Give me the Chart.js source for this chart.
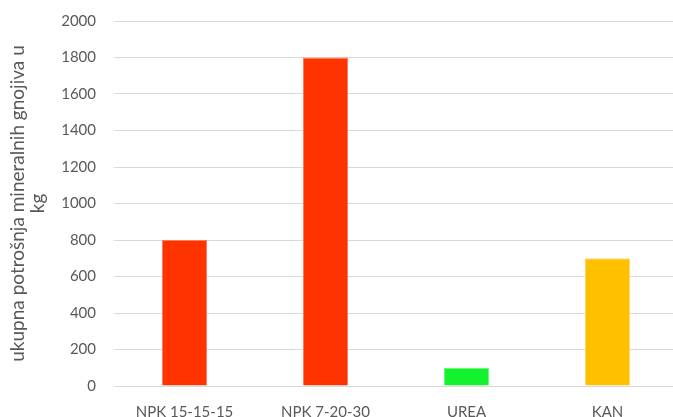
<!DOCTYPE html>
<html>
<head>
<meta charset="utf-8">
<script src="https://cdn.jsdelivr.net/npm/chart.js@4"></script>
<style>
  html, body { margin: 0; padding: 0; background: #fff; overflow: hidden; }
  .wrap { width: 680px; height: 417px; }
</style>
</head>
<body>
<div class="wrap"><canvas id="c"></canvas></div>
<script>
const categories = ['NPK 15-15-15', 'NPK 7-20-30', 'UREA', 'KAN'];
const values = [800, 1800, 100, 700];
const barColors = ['#FF3300', '#FF3300', '#12F22E', '#FFC000'];
const borderColors = ['#FF7A5C', '#FF7A5C', '#6CF77C', '#FFD766'];
const yTitle = ['ukupna potrošnja mineralnih gnojiva u', 'kg'];

const ctx = document.getElementById('c').getContext('2d');
new Chart(ctx, {
  type: 'bar',
  data: {
    labels: categories,
    datasets: [{
      data: values,
      backgroundColor: barColors,
      borderColor: borderColors,
      borderWidth: 1,
      barPercentage: 0.32,
      categoryPercentage: 1
    }]
  },
  options: {
    responsive: true,
    maintainAspectRatio: false,
    animation: false,
    layout: { padding: { top: 21, left: 7, right: 2, bottom: 0 } },
    plugins: { legend: { display: false }, tooltip: { enabled: false } },
    scales: {
      x: {
        grid: { display: false, drawTicks: false },
        border: { color: '#D9D9D9', width: 1 },
        ticks: { color: '#595959', padding: 17, font: { family: 'Lato', size: 15 } },
        afterFit: s => { s.height = 31; }
      },
      y: {
        min: 0,
        max: 2000,
        ticks: {
          stepSize: 200,
          color: '#595959',
          padding: 18,
          font: { family: 'Lato', size: 15 },
          callback: v => String(v) // no thousands separator
        },
        grid: { color: '#D9D9D9', drawTicks: false },
        border: { display: false },
        title: {
          display: true,
          text: yTitle,
          color: '#595959',
          font: { family: 'Lato', size: 19, lineHeight: 1.1 },
          padding: { top: 0, bottom: 0 }
        },
        afterFit: s => { s.width = 107; s.paddingTop = 0; s.paddingBottom = 0; }
      }
    }
  }
});
</script>
</body>
</html>
